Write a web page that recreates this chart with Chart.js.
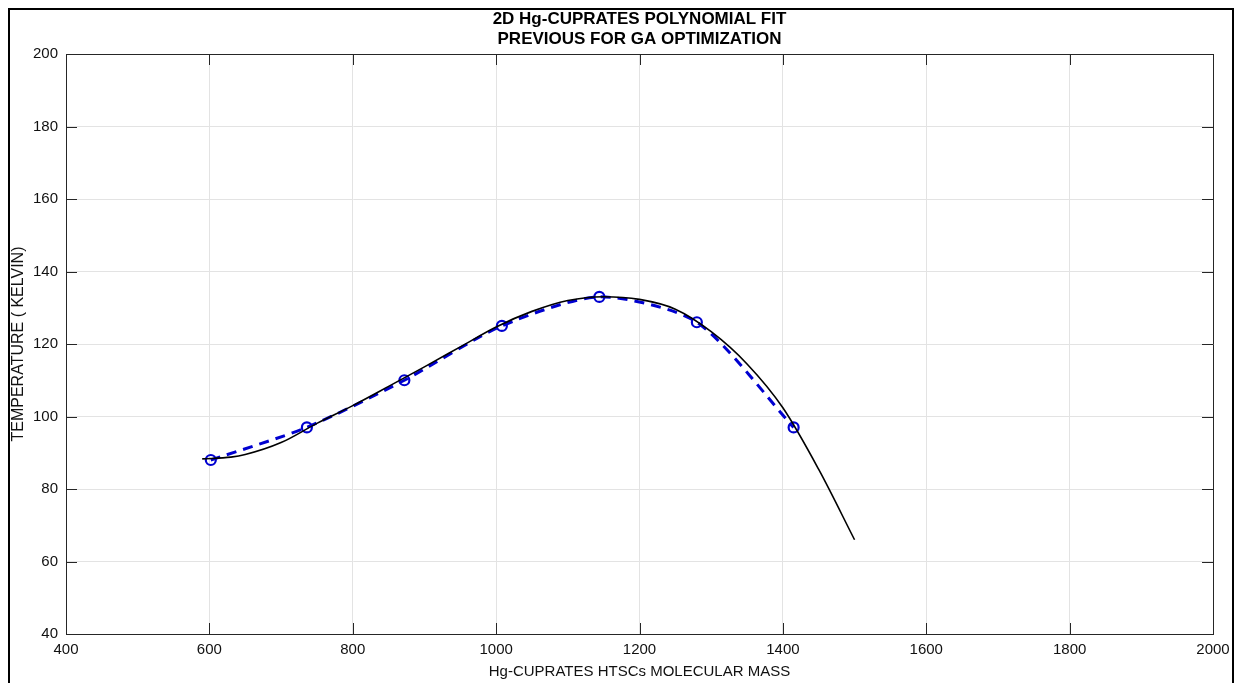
<!DOCTYPE html>
<html>
<head>
<meta charset="utf-8">
<script src="https://cdn.jsdelivr.net/npm/chart.js@4.4.1/dist/chart.umd.min.js"></script>
<style>
  html, body { margin: 0; padding: 0; background: #fff; overflow: hidden; }
  #wrap { position: relative; width: 1240px; height: 683px; }
  #frame { position: absolute; left: 8px; top: 8px; width: 1222px; height: 700px; border: 2px solid #000; }
  #graph { position: absolute; left: 0; top: 0; }
</style>
</head>
<body>
<div id="wrap">
  <div id="frame"></div>
  <canvas id="graph" width="1240" height="683"></canvas>
</div>
<script>
// measured points (molecular mass vs Tc)
const massPoints = [602, 736, 872, 1008, 1144, 1280, 1415];
const tcPoints = [88, 97, 110, 125, 133, 126, 97];

// polynomial fit curve
const fitMass = [590, 630, 650, 700, 750, 800, 850, 900, 950, 1000, 1050, 1100, 1150, 1200, 1250, 1300, 1350, 1400, 1450, 1500];
const fitTemp = [88.3, 88.8, 89.5, 92.8, 98.1, 103, 108.3, 113.7, 119.2, 124.7, 129, 132, 133.05, 132.3, 129.6, 123.4, 114.5, 102.4, 85.4, 66];

const titleLines = ['2D Hg-CUPRATES POLYNOMIAL FIT', 'PREVIOUS FOR GA OPTIMIZATION'];
const xTitle = 'Hg-CUPRATES HTSCs MOLECULAR MASS';
const yTitle = 'TEMPERATURE ( KELVIN)';

const axisColor = '#262626';
const fontFam = '"Liberation Sans", Arial, sans-serif';

// matlab style box with inward ticks, plus the title centred on the axes
const boxTicks = {
    id: 'boxTicks',
    afterDatasetsDraw(chart) {
        const {ctx, chartArea: a, scales: {x, y}} = chart;
        ctx.save();
        ctx.strokeStyle = axisColor;
        ctx.lineWidth = 1;
        ctx.beginPath();
        ctx.rect(a.left + 0.5, a.top + 0.5, a.right - a.left, a.bottom - a.top);
        x.ticks.forEach(t => {
            const px = Math.round(x.getPixelForValue(t.value)) + 0.5;
            ctx.moveTo(px, a.bottom); ctx.lineTo(px, a.bottom - 11);
            ctx.moveTo(px, a.top); ctx.lineTo(px, a.top + 11);
        });
        y.ticks.forEach(t => {
            const py = Math.round(y.getPixelForValue(t.value)) + 0.5;
            ctx.moveTo(a.left, py); ctx.lineTo(a.left + 11, py);
            ctx.moveTo(a.right, py); ctx.lineTo(a.right - 11, py);
        });
        ctx.stroke();

        ctx.fillStyle = '#000';
        ctx.font = 'bold 17px ' + fontFam;
        ctx.textAlign = 'center';
        ctx.textBaseline = 'alphabetic';
        const cx = (a.left + a.right) / 2;
        titleLines.forEach((line, i) => ctx.fillText(line, cx, 24 + i * 20));
        ctx.restore();
    }
};

const datan = massPoints.map((m, i) => ({x: m, y: tcPoints[i]}));
const dataf = fitMass.map((m, i) => ({x: m, y: fitTemp[i]}));

const ctx = document.getElementById('graph').getContext('2d');
new Chart(ctx, {
    type: 'scatter',
    data: {
        datasets: [{
            label: 'Fit',
            data: dataf,
            showLine: true,
            borderColor: '#000',
            borderWidth: 1.6,
            pointRadius: 0,
            cubicInterpolationMode: 'monotone',
            fill: false,
            order: 0
        },
        {
            label: 'Data',
            data: datan,
            showLine: true,
            borderColor: '#0000d0',
            borderWidth: 3,
            borderDash: [10, 7],
            pointRadius: 5,
            pointBorderWidth: 2.2,
            pointBorderColor: '#0000d0',
            pointBackgroundColor: 'rgba(0,0,0,0)',
            tension: 0.25,
            fill: false,
            order: 1
        }]
    },
    options: {
        responsive: false,
        animation: false,
        layout: { padding: { left: 0, right: 27, top: 54, bottom: 0 } },
        scales: {
            x: {
                type: 'linear',
                min: 400, max: 2000,
                afterFit(s) { s.height = 49; },
                ticks: { stepSize: 200, padding: 7, color: '#111', font: { family: fontFam, size: 15 },
                         callback: v => String(v) },
                grid: { color: '#e3e3e3', drawTicks: false },
                border: { display: true, color: axisColor },
                title: { display: true, text: xTitle, color: '#111', padding: { top: 0, bottom: 2 }, font: { family: fontFam, size: 15 } }
            },
            y: {
                min: 40, max: 200,
                afterFit(s) { s.width = 66; },
                ticks: { stepSize: 20, padding: 8, color: '#111', font: { family: fontFam, size: 15 },
                         callback: v => String(v) },
                grid: { color: '#e3e3e3', drawTicks: false },
                border: { display: true, color: axisColor },
                title: { display: true, text: yTitle, color: '#111', padding: { top: 9, bottom: 0 }, font: { family: fontFam, size: 16 } }
            }
        },
        plugins: {
            legend: { display: false },
            tooltip: { enabled: false },
            title: { display: false }
        }
    },
    plugins: [boxTicks]
});
</script>
</body>
</html>
